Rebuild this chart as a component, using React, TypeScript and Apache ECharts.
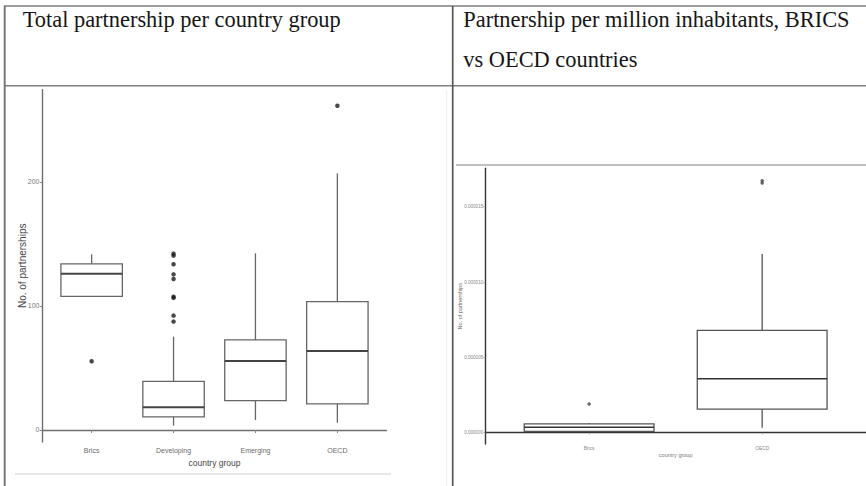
import React, { useEffect, useRef } from "react";
import * as echarts from "echarts";

// ---- Data ----
const leftCategories = ["Brics", "Developing", "Emerging", "OECD"];
// [min whisker, Q1, median, Q3, max whisker]
const leftBrics = [107.8, 107.8, 126, 134, 141.7];
const leftDeveloping = [3.5, 10.5, 18.3, 39.2, 75.3];
const leftEmerging = [8.1, 23.7, 55.6, 72.6, 142.5];
const leftOECD = [5.9, 21, 63.7, 103.5, 207];
const leftOutBrics = [55.4];
const leftOutDeveloping = [142.2, 140.6, 133.6, 125.5, 121.8, 107.5, 106.5, 92.2, 87.4];
const leftOutEmerging: number[] = [];
const leftOutOECD = [261.5];
const leftYTicks = [0, 100, 200];

const rightCategories = ["Brics", "OECD"];
const rightBrics = [0.06e-6, 0.09e-6, 0.36e-6, 0.58e-6, 0.62e-6];
const rightOECD = [0.33e-6, 1.57e-6, 3.58e-6, 6.79e-6, 11.86e-6];
const rightOutBrics = [1.9e-6];
const rightOutOECD = [16.72e-6, 16.57e-6];
const rightYTicks = [0, 5e-6, 10e-6, 15e-6];

const headerLeft = "Total partnership per country group";
const headerRight1 = "Partnership per million inhabitants, BRICS";
const headerRight2 = "vs OECD countries";

function boxRenderer(stroke: string, lw: number, medStroke: string, medW: number) {
  return (params: any, api: any) => {
    const x = api.value(0);
    const mn = api.coord([x, api.value(1)]);
    const q1 = api.coord([x, api.value(2)]);
    const md = api.coord([x, api.value(3)]);
    const q3 = api.coord([x, api.value(4)]);
    const mx = api.coord([x, api.value(5)]);
    const half = (api.size([1, 0])[0] * 0.75) / 2;
    const cx = q1[0];
    return {
      type: "group",
      children: [
        { type: "line", shape: { x1: cx, y1: q3[1], x2: cx, y2: mx[1] }, style: { stroke, lineWidth: lw } },
        { type: "line", shape: { x1: cx, y1: q1[1], x2: cx, y2: mn[1] }, style: { stroke, lineWidth: lw } },
        {
          type: "rect",
          shape: { x: cx - half, y: q3[1], width: 2 * half, height: q1[1] - q3[1] },
          style: { fill: "#fff", stroke, lineWidth: lw },
        },
        {
          type: "line",
          shape: { x1: cx - half, y1: md[1], x2: cx + half, y2: md[1] },
          style: { stroke: medStroke, lineWidth: medW },
        },
      ],
    };
  };
}

export default function App() {
  const ref = useRef<HTMLDivElement>(null);
  useEffect(() => {
    if (!ref.current) return;
    const chart = echarts.init(ref.current, undefined, { renderer: "svg" });

    const leftBoxes = [leftBrics, leftDeveloping, leftEmerging, leftOECD].map((b, i) => [i + 1, ...b]);
    const leftOut: number[][] = [];
    [leftOutBrics, leftOutDeveloping, leftOutEmerging, leftOutOECD].forEach((arr, i) =>
      arr.forEach((v) => leftOut.push([i + 1, v]))
    );
    const rightBoxes = [rightBrics, rightOECD].map((b, i) => [i + 1, ...b]);
    const rightOut: number[][] = [];
    [rightOutBrics, rightOutOECD].forEach((arr, i) => arr.forEach((v) => rightOut.push([i + 1, v])));

    const sans = "'Liberation Sans', Arial, sans-serif";
    const serifFont = "22.4px 'Liberation Serif', 'Times New Roman', serif";
    const border = "#7d7d7d";

    chart.setOption({
      animation: false,
      backgroundColor: "#fff",
      grid: [
        { left: 42.5, top: 89.6, width: 344, height: 352.4 },
        { left: 485.3, top: 168.3, width: 383.5, height: 275.7 },
      ],
      xAxis: [
        {
          gridIndex: 0,
          type: "value",
          min: 0.4,
          max: 4.6,
          splitLine: { show: false },
          axisLine: { show: true, lineStyle: { color: "#6e6e6e", width: 1.4 } },
          axisTick: { show: true, customValues: [1, 2, 3, 4], length: 3, lineStyle: { color: "#888" } },
          axisLabel: {
            customValues: [1, 2, 3, 4],
            formatter: (v: number) => leftCategories[Math.round(v) - 1] ?? "",
            fontFamily: sans,
            fontSize: 7,
            color: "#6a6a6a",
            margin: 5,
          },
          name: "country group",
          nameLocation: "middle",
          nameGap: 16,
          nameMoveOverlap: false,
          nameTextStyle: { fontFamily: sans, fontSize: 8.5, color: "#444" },
        },
        {
          gridIndex: 1,
          type: "value",
          min: 0.4,
          max: 2.6,
          splitLine: { show: false },
          axisLine: { show: true, lineStyle: { color: "#333", width: 1.4 } },
          axisTick: { show: true, customValues: [1, 2], length: 2, lineStyle: { color: "#999", width: 0.6 } },
          axisLabel: {
            customValues: [1, 2],
            formatter: (v: number) => rightCategories[Math.round(v) - 1] ?? "",
            fontFamily: sans,
            fontSize: 4.8,
            color: "#888",
            margin: 2,
          },
          name: "country group",
          nameLocation: "middle",
          nameGap: 7.5,
          nameMoveOverlap: false,
          nameTextStyle: { fontFamily: sans, fontSize: 5.5, color: "#777" },
        },
      ],
      yAxis: [
        {
          gridIndex: 0,
          type: "value",
          min: -9.7,
          max: 274.5,
          splitLine: { show: false },
          axisLine: { show: true, lineStyle: { color: "#6e6e6e", width: 1.4 } },
          axisTick: { show: true, customValues: leftYTicks, length: 2.7, lineStyle: { color: "#888" } },
          axisLabel: {
            customValues: leftYTicks,
            fontFamily: sans,
            fontSize: 7,
            color: "#777",
            margin: 3,
          },
          name: "No. of partnerships",
          nameLocation: "middle",
          nameGap: 15,
          nameMoveOverlap: false,
          nameRotate: 90,
          nameTextStyle: { fontFamily: sans, fontSize: 10, color: "#444" },
        },
        {
          gridIndex: 1,
          type: "value",
          min: -0.75e-6,
          max: 17.545e-6,
          splitLine: { show: false },
          axisLine: { show: true, lineStyle: { color: "#333", width: 1.4 } },
          axisTick: { show: true, customValues: rightYTicks, length: 2, lineStyle: { color: "#999", width: 0.6 } },
          axisLabel: {
            customValues: rightYTicks,
            formatter: (v: number) => v.toFixed(6),
            fontFamily: sans,
            fontSize: 4.6,
            color: "#888",
            margin: 2,
          },
          name: "No. of partnerships",
          nameLocation: "middle",
          nameGap: 22,
          nameMoveOverlap: false,
          nameRotate: 90,
          nameTextStyle: { fontFamily: sans, fontSize: 5.5, color: "#666" },
        },
      ],
      series: [
        {
          type: "custom",
          xAxisIndex: 0,
          yAxisIndex: 0,
          renderItem: boxRenderer("#666", 1.3, "#444", 2),
          encode: { x: 0, y: [1, 2, 3, 4, 5] },
          data: leftBoxes,
        },
        {
          type: "scatter",
          xAxisIndex: 0,
          yAxisIndex: 0,
          symbolSize: 4.5,
          itemStyle: { color: "#1a1a1a" },
          data: leftOut,
        },
        {
          type: "custom",
          xAxisIndex: 1,
          yAxisIndex: 1,
          renderItem: boxRenderer("#555", 1.3, "#333", 1.6),
          encode: { x: 0, y: [1, 2, 3, 4, 5] },
          data: rightBoxes,
        },
        {
          type: "scatter",
          xAxisIndex: 1,
          yAxisIndex: 1,
          symbolSize: 3.5,
          itemStyle: { color: "#444" },
          data: rightOut,
        },
      ],
      graphic: [
        // table borders
        { type: "line", shape: { x1: 4, y1: 6, x2: 866, y2: 6 }, style: { stroke: border, lineWidth: 1.6 } },
        { type: "line", shape: { x1: 4, y1: 85.7, x2: 866, y2: 85.7 }, style: { stroke: border, lineWidth: 1.6 } },
        { type: "line", shape: { x1: 4.7, y1: 6, x2: 4.7, y2: 486 }, style: { stroke: "#777", lineWidth: 2 } },
        { type: "line", shape: { x1: 452.7, y1: 6, x2: 452.7, y2: 486 }, style: { stroke: "#555", lineWidth: 1.7 } },
        // image edges inside cells
        { type: "line", shape: { x1: 15, y1: 474, x2: 391, y2: 474 }, style: { stroke: "#dedede", lineWidth: 1.5 } },
        { type: "line", shape: { x1: 446.7, y1: 90, x2: 446.7, y2: 486 }, style: { stroke: "#efefef", lineWidth: 1 } },
        { type: "line", shape: { x1: 456, y1: 165, x2: 866, y2: 165 }, style: { stroke: "#aaa", lineWidth: 1.5 } },
        // headers
        {
          type: "text",
          x: 22.7,
          y: 19.7,
          style: { text: headerLeft, font: serifFont, fill: "#151515", verticalAlign: "middle" },
        },
        {
          type: "text",
          x: 463.3,
          y: 19.7,
          style: { text: headerRight1, font: serifFont, fill: "#151515", verticalAlign: "middle" },
        },
        {
          type: "text",
          x: 463.3,
          y: 59.1,
          style: { text: headerRight2, font: serifFont, fill: "#151515", verticalAlign: "middle" },
        },
      ],
    });
    return () => chart.dispose();
  }, []);
  return <div ref={ref} style={{ position: "fixed", left: 0, top: 0, width: 866, height: 486 }} />;
}
